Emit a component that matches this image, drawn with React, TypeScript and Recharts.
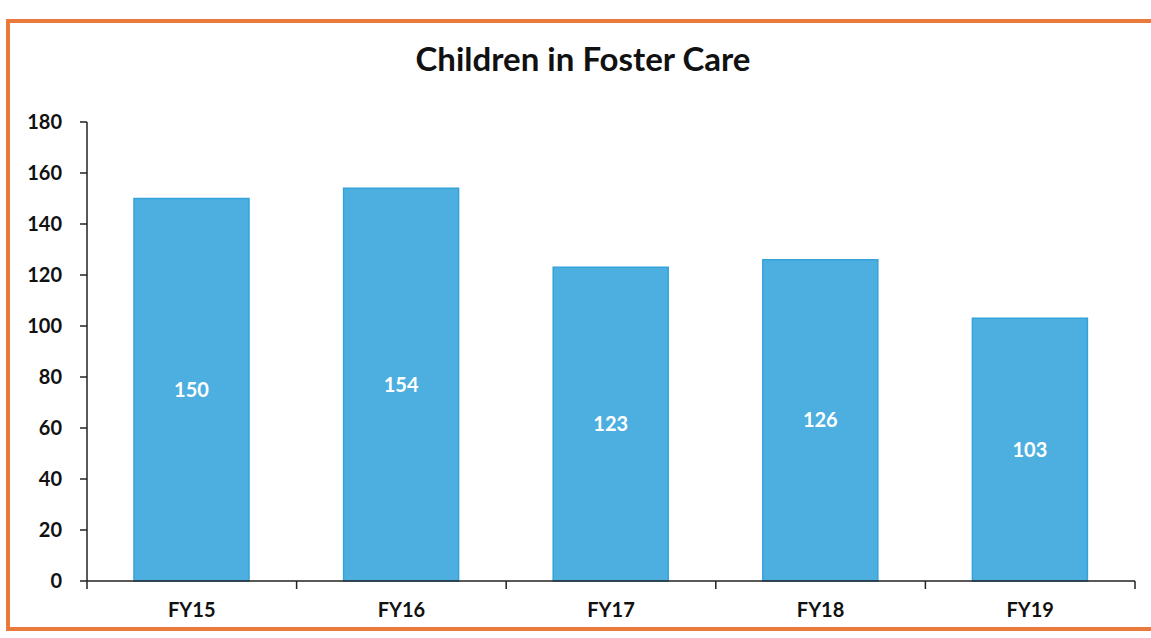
import React from "react";
import { BarChart, Bar, XAxis, YAxis, LabelList } from "recharts";

const categories = ["FY15", "FY16", "FY17", "FY18", "FY19"];
const childrenValues = [150, 154, 123, 126, 103];
const yTicks = [0, 20, 40, 60, 80, 100, 120, 140, 160, 180];

const data = categories.map((c, i) => ({ name: c, value: childrenValues[i] }));

const FONT = "Lato, 'Open Sans', sans-serif";
const X_TICK_MARGIN = 22;

const CategoryTick = (props: any) => {
  const { x, y, payload, index, visibleTicksCount } = props;
  const half = payload && typeof payload.offset === "number" ? payload.offset : 0;
  const axisY = y - X_TICK_MARGIN;
  const isLast = index === (visibleTicksCount ?? categories.length) - 1;
  return (
    <g>
      <line x1={x - half} x2={x - half} y1={axisY} y2={axisY + 8} stroke="#222" strokeWidth={1.5} />
      {isLast && (
        <line x1={x + half} x2={x + half} y1={axisY} y2={axisY + 8} stroke="#222" strokeWidth={1.5} />
      )}
      <text
        x={x}
        y={y}
        dy="0.71em"
        textAnchor="middle"
        fill="#111"
        style={{ fontFamily: FONT, fontWeight: 700, fontSize: 20 }}
      >
        {payload.value}
      </text>
    </g>
  );
};

export default function App() {
  return (
    <div style={{ position: "absolute", left: 0, top: 0, width: 1151, height: 638, background: "#fff", overflow: "hidden" }}>
      <div
        style={{
          position: "absolute",
          left: 6,
          top: 19,
          width: 1170,
          height: 612,
          border: "4px solid #E97A3C",
          boxSizing: "border-box",
        }}
      />
      <div
        style={{
          position: "absolute",
          left: 0,
          top: 38,
          width: 1166,
          textAlign: "center",
          fontFamily: FONT,
          fontWeight: 700,
          fontSize: 33,
          color: "#111",
        }}
      >
        Children in Foster Care
      </div>
      <div style={{ position: "absolute", left: 0, top: 0 }}>
        <BarChart
          width={1151}
          height={638}
          data={data}
          margin={{ top: 122, right: 16, bottom: 27, left: 27 }}
        >
          <XAxis
            dataKey="name"
            height={30}
            axisLine={{ stroke: "#222", strokeWidth: 1.5 }}
            tickLine={false}
            tickSize={0}
            tickMargin={X_TICK_MARGIN}
            tick={<CategoryTick />}
          />
          <YAxis
            width={60}
            domain={[0, 180]}
            ticks={yTicks}
            interval={0}
            axisLine={{ stroke: "#222", strokeWidth: 1.5 }}
            tickLine={{ stroke: "#222", strokeWidth: 1.5 }}
            tickSize={7}
            tickMargin={18}
            tick={{ fill: "#111", fontFamily: FONT, fontWeight: 700, fontSize: 20 }}
          />
          <Bar
            dataKey="value"
            fill="#4DAFDF"
            stroke="#35A3D9"
            strokeWidth={1.5}
            barSize={115}
            isAnimationActive={false}
          >
            <LabelList
              dataKey="value"
              position="center"
              fill="#ffffff"
              style={{ fontFamily: FONT, fontWeight: 700, fontSize: 20 }}
            />
          </Bar>
        </BarChart>
      </div>
    </div>
  );
}
